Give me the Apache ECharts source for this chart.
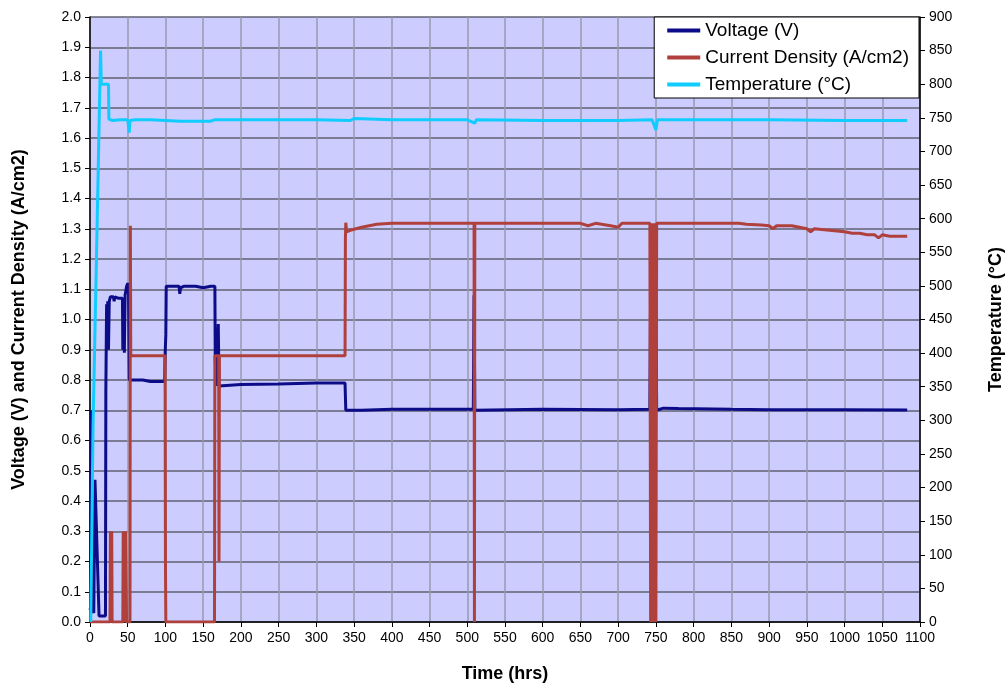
<!DOCTYPE html>
<html>
<head>
<meta charset="utf-8">
<script src="https://cdn.jsdelivr.net/npm/echarts@6/dist/echarts.min.js"></script>
<style>
html,body{margin:0;padding:0;background:#fff;}
#c{width:1008px;height:684px;}
</style>
</head>
<body>
<div id="c"></div>
<script>
// ---- Data ----
var voltageTime = [0,1,1.3,1.8,5,6.6,12,20.5,21,22,23,23.5,24.5,25.5,27,31,32,33,38,43,43.5,44.5,45.5,46.5,48.5,50,51,52,55,70,80,99,99.5,100.5,101,110,118,119,120,125,140,150,160,165.5,166,167,169,170,171,172,200,250,300,338,339,360,400,450,508,509,510,600,700,742,743,744,746,747,750,751,760,780,850,900,1000,1083];
var voltage     = [0.04,0.05,0.70,0.05,0.03,0.47,0.02,0.02,0.76,1.05,0.92,1.06,0.90,1.06,1.075,1.075,1.06,1.075,1.07,1.07,0.90,1.06,0.89,1.08,1.11,1.12,1.11,0.80,0.80,0.80,0.795,0.795,0.88,0.95,1.11,1.11,1.11,1.085,1.105,1.11,1.11,1.105,1.11,1.11,0.87,0.78,0.78,0.985,0.78,0.785,0.785,0.787,0.79,0.79,0.70,0.70,0.703,0.703,0.703,1.08,0.70,0.703,0.702,0.703,1.10,0.70,1.10,0.70,1.10,0.70,0.707,0.706,0.703,0.702,0.702,0.701];

var currentTime = [0,26.5,27,27.8,28.2,28.8,29.3,43.5,44,45,45.5,46.5,47,48,48.5,53,53.5,54,99.5,100,100.5,165,165.5,170.5,171,171.5,338,338.5,339,340,345,360,380,400,509,509.5,510,600,650,660,670,690,700,705,742,743,744,746,747,750,751,860,870,890,900,905,910,930,940,950,955,960,980,1000,1010,1020,1030,1040,1045,1050,1060,1083];
var current     = [0,0,0.30,0.30,0.13,0.30,0,0,0.30,0.30,0,0,0.30,0.30,0,0,1.31,0.88,0.88,0.20,0,0,0.88,0.88,0.20,0.88,0.88,1.27,1.32,1.29,1.295,1.305,1.315,1.318,1.318,0,1.318,1.318,1.318,1.31,1.318,1.31,1.305,1.318,1.318,0,1.318,0,1.318,0,1.318,1.318,1.315,1.312,1.31,1.30,1.31,1.31,1.305,1.30,1.29,1.30,1.295,1.29,1.285,1.285,1.28,1.28,1.27,1.28,1.275,1.275];

var temperatureTime = [1,4,8,14,15,24.5,25,30,40,50,52,53,60,80,100,102,120,160,165,200,300,345,350,400,500,510,512,600,700,745,750,752,800,900,1000,1083];
var temperature     = [0,290,510,850,800,800,748,746,747,747,728,746,747,747,746,744,745,745,747,747,747,746,749,747,747,742,747,746,746,747,732,747,747,747,746,746];

var xTickLabels = [0,50,100,150,200,250,300,350,400,450,500,550,600,650,700,750,800,850,900,950,1000,1050,1100];
var seriesNames = ['Voltage (V)','Current Density (A/cm2)','Temperature (°C)'];

function zip(a,b){var r=[];for(var i=0;i<a.length;i++)r.push([a[i],b[i]]);return r;}

var FONT = '"Liberation Sans", Arial, sans-serif';
var chart = echarts.init(document.getElementById('c'));
chart.setOption({
  animation:false,
  backgroundColor:'#fff',
  textStyle:{fontFamily:FONT},
  grid:{left:90,right:88,top:17,bottom:62,show:true,backgroundColor:'#ccccff',borderWidth:0,
        containLabel:false, outerBoundsMode:'none'},
  legend:{
    orient:'vertical', right:89, top:17,
    backgroundColor:'#fff', borderColor:'#000', borderWidth:1,
    padding:[4,10,4,13], itemGap:8, itemWidth:33, itemHeight:4,
    textStyle:{fontSize:19,lineHeight:19,color:'#000',fontFamily:FONT},
    data:seriesNames.map(function(n){return {name:n,icon:'rect'};})
  },
  xAxis:{
    type:'value', min:0, max:1100, interval:50,
    name:'Time (hrs)', nameLocation:'middle', nameGap:43,
    nameTextStyle:{fontSize:18,fontWeight:'bold',color:'#000',fontFamily:FONT},
    axisLine:{onZero:false,lineStyle:{color:'#000',width:1.5}},
    axisTick:{show:true,length:5,lineStyle:{color:'#000'}},
    axisLabel:{fontSize:14,color:'#000',margin:9,fontFamily:FONT,
      formatter:function(v){return xTickLabels.indexOf(v)>=0?String(v):'';}},
    splitLine:{show:true,lineStyle:{color:'#9a9aae',width:1.5}}
  },
  yAxis:[{
    type:'value', min:0, max:2, interval:0.1, position:'left',
    name:'Voltage (V) and Current Density (A/cm2)', nameLocation:'middle', nameGap:62, nameRotate:90,
    nameTextStyle:{fontSize:18,fontWeight:'bold',color:'#000',fontFamily:FONT},
    axisLine:{show:true,lineStyle:{color:'#000',width:1.5}},
    axisTick:{show:true,length:5,lineStyle:{color:'#000'}},
    axisLabel:{fontSize:14,color:'#000',margin:9,fontFamily:FONT,formatter:function(v){return v.toFixed(1);}},
    splitLine:{show:true,lineStyle:{color:'#606070',width:1.5}}
  },{
    type:'value', min:0, max:900, interval:50, position:'right',
    name:'Temperature (°C)', nameLocation:'middle', nameGap:67, nameRotate:90,
    nameTextStyle:{fontSize:18,fontWeight:'bold',color:'#000',fontFamily:FONT},
    axisLine:{show:true,lineStyle:{color:'#000',width:1.5}},
    axisTick:{show:true,length:5,lineStyle:{color:'#000'}},
    axisLabel:{fontSize:14,color:'#000',margin:9,fontFamily:FONT},
    splitLine:{show:false}
  }],
  series:[{
    name:seriesNames[0], type:'line', yAxisIndex:0, symbol:'none',
    lineStyle:{color:'#0c0c88',width:3}, itemStyle:{color:'#0c0c88'},
    data:zip(voltageTime,voltage)
  },{
    name:seriesNames[1], type:'line', yAxisIndex:0, symbol:'none',
    lineStyle:{color:'#b0403c',width:3}, itemStyle:{color:'#b0403c'},
    data:zip(currentTime,current)
  },{
    name:seriesNames[2], type:'line', yAxisIndex:1, symbol:'none',
    lineStyle:{color:'#10ccff',width:3}, itemStyle:{color:'#10ccff'},
    data:zip(temperatureTime,temperature)
  }]
});
</script>
</body>
</html>
